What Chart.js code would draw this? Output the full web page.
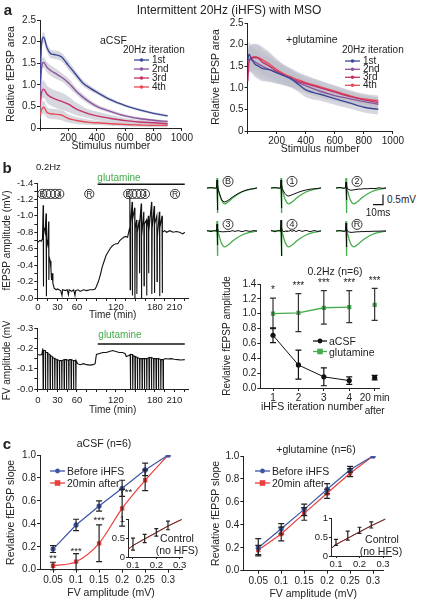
<!DOCTYPE html>
<html>
<head>
<meta charset="utf-8">
<script src="https://cdn.jsdelivr.net/npm/chart.js@4.4.1/dist/chart.umd.min.js"></script>
<style>
html, body { margin: 0; padding: 0; background: #fff; }
#fig { position: relative; width: 421px; height: 600px; overflow: hidden; font-family: 'Liberation Sans', Arial, sans-serif; color: #222; }
#fig canvas { position: absolute; }
.t { position: absolute; white-space: nowrap; line-height: 1; transform: translate(0, -50%); }
.t.c { transform: translate(-50%, -50%); }
</style>
</head>
<body>
<div id="fig"></div>
<script>
// ---- a: relative fEPSP area vs stimulus number
const stim = [1, 10, 25, 50, 75, 100, 150, 200, 250, 300, 350, 400, 500, 600, 700, 800, 900];
const acsf1 = [1.0, 1.9, 2.1, 1.85, 1.72, 1.70, 1.65, 1.45, 1.25, 1.05, 0.93, 0.83, 0.65, 0.52, 0.42, 0.34, 0.28];
const acsf2 = [0.8, 1.35, 1.52, 1.4, 1.33, 1.28, 1.18, 1.05, 0.87, 0.72, 0.6, 0.5, 0.38, 0.28, 0.22, 0.18, 0.15];
const acsf3 = [0.5, 0.8, 0.9, 0.78, 0.72, 0.68, 0.62, 0.55, 0.45, 0.38, 0.32, 0.28, 0.22, 0.17, 0.14, 0.12, 0.1];
const acsf4 = [0.3, 0.42, 0.48, 0.36, 0.33, 0.32, 0.3, 0.22, 0.18, 0.15, 0.13, 0.12, 0.1, 0.08, 0.07, 0.06, 0.06];
const acsfSem1 = [0.1, 0.12, 0.12, 0.1, 0.1, 0.1, 0.1, 0.1, 0.08, 0.07, 0.06, 0.05, 0.04, 0.03, 0.03, 0.03, 0.03];
const acsfSem2 = [0.12, 0.12, 0.12, 0.12, 0.12, 0.12, 0.1, 0.1, 0.08, 0.07, 0.06, 0.05, 0.04, 0.03, 0.03, 0.03, 0.03];
const acsfSem3 = [0.2, 0.2, 0.2, 0.2, 0.2, 0.2, 0.2, 0.18, 0.15, 0.12, 0.1, 0.1, 0.08, 0.06, 0.05, 0.05, 0.04];
const acsfSem4 = [0.15, 0.15, 0.15, 0.12, 0.12, 0.12, 0.12, 0.1, 0.08, 0.07, 0.06, 0.05, 0.05, 0.04, 0.04, 0.04, 0.04];
const glut1 = [1.65, 1.78, 1.68, 1.55, 1.5, 1.45, 1.42, 1.35, 1.28, 1.2, 1.08, 0.95, 0.85, 0.75, 0.65, 0.55, 0.5];
const glut2 = [1.62, 1.65, 1.65, 1.6, 1.55, 1.5, 1.42, 1.35, 1.28, 1.22, 1.12, 1.05, 0.92, 0.82, 0.75, 0.68, 0.62];
const glut3 = [1.15, 1.62, 1.68, 1.7, 1.68, 1.6, 1.5, 1.38, 1.3, 1.22, 1.15, 1.1, 1.0, 0.9, 0.8, 0.72, 0.66];
const glut4 = [1.6, 1.65, 1.7, 1.72, 1.7, 1.65, 1.55, 1.42, 1.32, 1.25, 1.18, 1.12, 1.02, 0.92, 0.82, 0.74, 0.7];
const glutSem = [0.25, 0.28, 0.3, 0.3, 0.3, 0.3, 0.28, 0.25, 0.22, 0.2, 0.18, 0.17, 0.15, 0.14, 0.13, 0.12, 0.12];
const iterNames = ['1st', '2nd', '3rd', '4th'];

// ---- b: time courses (min, mV magnitude)
const fepspTime = [0, 3, 5, 7, 8, 8.3, 8.8, 10, 11, 12.5, 12.8, 13.3, 15, 16.5, 16.8, 17.3, 19, 20, 21, 22, 23, 25, 28, 30, 35,
  37, 38, 42, 45, 47, 48, 52, 55, 57, 58, 62, 65, 70, 75, 80, 85, 88, 90, 93, 96, 99, 102, 105, 108, 111, 114, 117, 120, 123, 126, 129, 132, 135, 138,
  141, 141.5, 142, 142.5, 145, 145.3, 145.8, 149, 149.3, 149.8, 152, 152.3, 152.8, 156, 156.3, 156.8, 159, 159.3, 159.8,
  163, 163.3, 163.8, 167, 167.3, 167.8, 170, 170.3, 170.8, 175, 175.3, 175.8, 179, 179.3, 179.8, 183, 183.3, 183.8,
  187, 187.3, 187.8, 191, 191.3, 191.8, 195, 198, 203, 208, 213, 218, 223, 226];
const fepspAmp = [0.68, 0.7, 0.69, 0.72, 1.13, 0.14, 0.86, 0.84, 0.8, 1.03, 0.02, 0.72, 0.65, 0.93, 0.22, 0.5, 0.45, 0.35, 0.22, 0.3, 0.18, 0.12, 0.1, 0.11, 0.09,
  0.03, 0.1, 0.09, 0.1, 0.04, 0.1, 0.08, 0.1, 0.03, 0.09, 0.1, 0.08, 0.1, 0.09, 0.1, 0.1, 0.11, 0.14, 0.2, 0.28, 0.38, 0.45, 0.52, 0.56, 0.6, 0.63, 0.65, 0.66, 0.66, 0.7, 0.72, 0.74, 0.75, 0.74,
  0.85, 1.22, 0.1, 0.9, 1.17, 0.03, 0.95, 1.1, 0.0, 0.85, 0.95, 0.05, 0.8, 0.95, 0.3, 0.9, 1.15, 0.0, 0.75,
  1.05, 0.15, 0.9, 0.95, 0.03, 0.85, 1.0, 0.3, 0.8, 1.17, 0.05, 0.85, 1.12, 0.06, 0.9, 1.0, 0.2, 0.75,
  1.05, 0.02, 0.85, 1.0, 0.06, 0.8, 0.82, 0.8, 0.82, 0.8, 0.81, 0.8, 0.78, 0.8];
const fvTime = [0, 3, 6, 7.5, 8, 8.5, 11.2, 11.6, 12, 14.8, 15.2, 15.6, 18.4, 18.8, 19.2, 22, 22.4, 22.8, 25.6, 26, 26.4,
  29.2, 29.6, 30, 32.8, 33.2, 33.6, 36.4, 36.8, 37.2, 40, 40.4, 40.8, 43.6, 44, 44.4, 47.2, 47.6, 48, 50.8, 51.2, 51.6,
  54.4, 54.8, 55.2, 58, 58.4, 58.8, 61, 65, 70, 75, 80, 85, 88, 90, 95, 100, 105, 110, 115, 120, 125, 130, 134, 136, 140,
  142, 142.4, 142.8, 145.6, 146, 146.4, 149.2, 149.6, 150, 152.8, 153.2, 153.6, 156.4, 156.8, 157.2, 160, 160.4, 160.8,
  163.6, 164, 164.4, 167.2, 167.6, 168, 170.8, 171.2, 171.6, 174.4, 174.8, 175.2, 178, 178.4, 178.8, 181.6, 182, 182.4,
  185.2, 185.6, 186, 188.8, 189.2, 189.6, 192.4, 192.8, 193.2, 196, 200, 205, 210, 215, 220, 226];
const fvTrace = [0.17, 0.168, 0.17, 0.2, 0, 0.19, 0.19, 0, 0.18, 0.18, 0, 0.175, 0.17, 0, 0.165, 0.16, 0, 0.155, 0.15, 0, 0.15,
  0.145, 0, 0.145, 0.14, 0, 0.14, 0.14, 0, 0.14, 0.145, 0, 0.145, 0.145, 0, 0.145, 0.14, 0, 0.145, 0.145, 0, 0.145,
  0.14, 0, 0.14, 0.14, 0, 0.14, 0.125, 0.12, 0.125, 0.12, 0.118, 0.12, 0.125, 0.17, 0.175, 0.18, 0.18, 0.185, 0.19, 0.185, 0.18, 0.18, 0.175, 0.16, 0.165,
  0.17, 0, 0.17, 0.17, 0, 0.165, 0.16, 0, 0.16, 0.155, 0, 0.155, 0.15, 0, 0.15, 0.15, 0, 0.15,
  0.15, 0, 0.15, 0.15, 0, 0.15, 0.155, 0, 0.155, 0.155, 0, 0.155, 0.15, 0, 0.15, 0.15, 0, 0.15,
  0.15, 0, 0.15, 0.145, 0, 0.145, 0.145, 0, 0.145, 0.15, 0.148, 0.15, 0.147, 0.145, 0.143, 0.145];
const timeTicks = [0, 15, 30, 45, 60, 75, 90, 105, 120, 135, 150, 165, 180, 195, 210, 225];
const timeLabels = [0, 30, 60, 120, 180, 210];
const glutOn = [92, 226];
const sampleTimes = [6.7, 13.2, 19.7, 26.3, 32.8, 79, 139, 145.4, 151.8, 158.3, 164.7, 211];
const sampleNames = ['B', '', '', '', '4', 'R', 'B', '', '', '', '4', 'R'];

// ---- b: example sweeps (ms, mV)
const waveT = [-10, -6, -2, -0.5, 0, 0.4, 0.8, 1.3, 2, 3, 4, 5, 6, 7, 8, 9, 11, 13, 15, 18, 21, 25, 29, 33, 37, 40];
const waveGreen = [0, 0.02, -0.01, 0, 0.5, -1.25, 0.2, -0.1, -0.2, -0.4, -0.55, -0.66, -0.74, -0.78, -0.79, -0.77, -0.7, -0.62, -0.53, -0.41, -0.31, -0.2, -0.12, -0.07, -0.03, 0];
const blackB = [0, 0.02, -0.01, 0, 0.4, -1.1, 0.15, -0.1, -0.2, -0.35, -0.5, -0.6, -0.66, -0.69, -0.7, -0.68, -0.62, -0.55, -0.47, -0.37, -0.28, -0.18, -0.11, -0.06, -0.03, 0];
const black1 = [0, 0.02, -0.01, 0, 0.4, -1.0, 0.15, -0.05, -0.1, -0.2, -0.28, -0.34, -0.38, -0.4, -0.4, -0.38, -0.34, -0.3, -0.26, -0.2, -0.15, -0.1, -0.06, -0.04, -0.02, 0];
const black2 = [0, 0.03, -0.02, 0.02, 0.3, -0.6, 0.1, -0.03, -0.05, -0.08, -0.1, -0.11, -0.11, -0.1, -0.09, -0.08, -0.07, -0.05, -0.06, -0.03, -0.04, -0.02, -0.03, 0.01, -0.02, 0];
const black3 = [0.02, -0.03, 0.03, -0.02, 0.35, -0.7, 0.1, 0, -0.02, -0.04, -0.02, -0.05, -0.03, -0.05, -0.02, -0.04, -0.01, -0.03, 0.02, -0.02, 0.02, -0.03, 0.02, -0.02, 0.02, 0];
const black4 = [0.03, -0.04, 0.04, -0.03, 0.55, -1.25, 0.15, 0.03, -0.03, -0.02, -0.04, 0.03, -0.05, 0.02, -0.03, 0.04, -0.02, 0.03, -0.03, 0.04, -0.02, 0.03, -0.03, 0.02, -0.02, 0.01];
const blackR = [0, 0.02, -0.02, 0.01, 0.4, -0.8, 0.1, 0, -0.03, -0.05, -0.06, -0.07, -0.07, -0.06, -0.06, -0.05, -0.04, -0.04, -0.03, -0.03, -0.02, -0.02, -0.01, -0.01, 0, 0];

// ---- b: summary at 0.2Hz
const iterX = [1, 2, 3, 4, 5];
const iterLabels = ['1', '2', '3', '4', ['20 min', 'after']];
const sumAcsf = [0.71, 0.31, 0.15, 0.10, 0.14];
const sumAcsfLo = [0.61, 0.12, 0.03, 0.05, 0.11];
const sumAcsfHi = [0.81, 0.51, 0.27, 0.15, 0.17];
const sumGlut = [1.0, 1.01, 1.08, 1.09, 1.12];
const sumGlutLo = [0.80, 0.76, 0.86, 0.88, 0.91];
const sumGlutHi = [1.21, 1.27, 1.31, 1.31, 1.34];
const sumStars = ['*', '***', '***', '***', '***'];
const sumStarY = [1.31, 1.37, 1.41, 1.41, 1.44];

// ---- c: input-output curves
const fvX = [0.05, 0.1, 0.15, 0.2, 0.25, 0.3];
const acsfBefore = [0.18, 0.39, 0.555, 0.71, 0.87, 1.0];
const acsfBeforeLo = [0.15, 0.34, 0.51, 0.64, 0.82, null];
const acsfBeforeHi = [0.21, 0.44, 0.60, 0.78, 0.93, null];
const acsfAfter = [0.035, 0.07, 0.23, 0.535, 0.78, 1.0];
const acsfAfterLo = [0.0, 0.0, 0.07, 0.38, 0.69, null];
const acsfAfterHi = [0.065, 0.14, 0.39, 0.70, 0.87, null];
const cStarX = [0.05, 0.1, 0.15, 0.214];
const cStarY = [0.1, 0.16, 0.43, 0.67];
const cStars = ['**', '***', '***', '**'];
const glutBefore = [0.2, 0.365, 0.535, 0.71, 0.88, 1.0];
const glutBeforeLo = [0.14, 0.32, 0.48, 0.67, 0.86, null];
const glutBeforeHi = [0.28, 0.41, 0.58, 0.76, 0.91, null];
const glutAfter = [0.18, 0.32, 0.5, 0.675, 0.85, 1.0];
const glutAfterLo = [0.13, 0.26, 0.44, 0.63, 0.82, null];
const glutAfterHi = [0.22, 0.38, 0.55, 0.71, 0.89, null];
const insetX = [0.08, 0.1, 0.15, 0.2, 0.25, 0.31];
const insetAcsfCtl = [0.2, 0.3, 0.48, 0.65, 0.82, 1.0];
const insetAcsfCtl2 = [0.21, 0.31, 0.47, 0.64, 0.82, 0.99];
const insetAcsfLo = [null, 0.18, 0.38, 0.55, 0.72, null];
const insetAcsfHi = [null, 0.5, 0.6, 0.75, 0.95, null];
const insetGlutCtl = [0.2, 0.3, 0.47, 0.64, 0.8, 0.98];
const insetGlutCtl2 = [0.21, 0.31, 0.47, 0.63, 0.8, 0.97];
const insetGlutLo = [null, 0.28, 0.42, 0.6, 0.74, null];
const insetGlutHi = [null, 0.44, 0.66, 0.76, 0.9, null];

const INK = '#222';
const GREEN = '#45ad4c';
const BLUE = '#3e56a6';
const RED = '#e8403f';
const ITER_COLORS = ['#3b4796', '#8d559f', '#c6306a', '#e84a55'];
const BAND = 'rgba(190,192,204,0.62)';

Chart.defaults.font.family = "'Liberation Sans', Arial, sans-serif";
Chart.defaults.color = INK;

const fig = document.getElementById('fig');

function canvasAt(left, top, w, h) {
  const c = document.createElement('canvas');
  w = Math.round(w); h = Math.round(h);
  c.width = w; c.height = h;
  c.style.left = left + 'px'; c.style.top = top + 'px';
  c.style.width = w + 'px'; c.style.height = h + 'px';
  fig.appendChild(c);
  return c;
}

// canvas sized so that the plot area lands on x0..x1 / y0..y1
function place(x0, y0, x1, y1, yw, xh, pad) {
  const [pt, pr, pb, pl] = pad;
  const left = x0 - yw - pl, top = y0 - pt;
  return { canvas: canvasAt(left, top, x1 + pr - left, y1 + xh + pb - top), padding: { top: pt, right: pr, bottom: pb, left: pl } };
}

function axis(o) {
  return {
    type: 'linear', min: o.min, max: o.max,
    afterFit: s => { if (s.isHorizontal()) s.height = o.size; else s.width = o.size; },
    afterBuildTicks: s => { s.ticks = o.ticks.map(v => ({ value: v })); },
    grid: { drawOnChartArea: false, drawTicks: true, tickLength: o.tl ?? 3, tickColor: INK, tickWidth: 1 },
    border: { display: true, color: INK, width: 1 },
    ticks: { autoSkip: false, maxRotation: 0, padding: o.tp ?? 1, color: INK, font: { size: o.fs ?? 10, lineHeight: 1.3 }, callback: o.fmt ?? (v => String(v)) },
    title: { display: !!o.title, text: o.title, color: INK, font: { size: o.tfs ?? 10.5 }, padding: { top: o.tpad ?? 0, bottom: 0 } }
  };
}

function baseOptions(padding, scales) {
  return {
    responsive: false, animation: false, devicePixelRatio: 1,
    layout: { padding }, scales,
    plugins: { legend: { display: false }, tooltip: { enabled: false }, filler: { drawTime: 'beforeDatasetsDraw' } },
    elements: { point: { radius: 0 }, line: { borderWidth: 1.3, tension: 0 } }
  };
}

function pts(xs, ys) { return xs.map((x, i) => ({ x, y: ys[i] })); }

function onPage(chart, fn) {
  const ctx = chart.ctx;
  ctx.save();
  ctx.translate(-chart.canvas.offsetLeft, -chart.canvas.offsetTop);
  fn(ctx);
  ctx.restore();
}

function legendMark(ctx, x0, x1, y, color, shape, r) {
  ctx.strokeStyle = color; ctx.fillStyle = color; ctx.lineWidth = 1.3;
  ctx.beginPath(); ctx.moveTo(x0, y); ctx.lineTo(x1, y); ctx.stroke();
  const cx = (x0 + x1) / 2;
  ctx.beginPath();
  if (shape === 'rect') ctx.rect(cx - r, y - r, 2 * r, 2 * r); else ctx.arc(cx, y, r, 0, Math.PI * 2);
  ctx.fill();
}

function errBars(chart, xs, lo, hi, cap, color) {
  const { ctx, scales: { x, y } } = chart;
  ctx.save();
  ctx.strokeStyle = color || INK; ctx.lineWidth = 1.2;
  xs.forEach((v, i) => {
    if (lo[i] == null) return;
    const px = x.getPixelForValue(v), a = y.getPixelForValue(lo[i]), b = y.getPixelForValue(hi[i]);
    ctx.beginPath();
    ctx.moveTo(px, a); ctx.lineTo(px, b);
    ctx.moveTo(px - cap, a); ctx.lineTo(px + cap, a);
    ctx.moveTo(px - cap, b); ctx.lineTo(px + cap, b);
    ctx.stroke();
  });
  ctx.restore();
}

function labels(chart, xs, ys, texts, size) {
  const { ctx, scales: { x, y } } = chart;
  ctx.save();
  ctx.fillStyle = INK; ctx.font = size + "px 'Liberation Sans', Arial";
  ctx.textAlign = 'center'; ctx.textBaseline = 'middle';
  xs.forEach((v, i) => ctx.fillText(texts[i], x.getPixelForValue(v), y.getPixelForValue(ys[i])));
  ctx.restore();
}

function circleLabel(ctx, cx, cy, r, text, size) {
  ctx.save();
  ctx.strokeStyle = INK; ctx.lineWidth = 0.9;
  ctx.beginPath(); ctx.arc(cx, cy, r, 0, Math.PI * 2); ctx.stroke();
  if (text) {
    ctx.fillStyle = INK; ctx.font = size + "px 'Liberation Sans', Arial";
    ctx.textAlign = 'center'; ctx.textBaseline = 'middle';
    ctx.fillText(text, cx, cy + 0.5);
  }
  ctx.restore();
}

// ---------- panel a
function areaChart(spot, means, sems, legendX, legendY) {
  const datasets = [];
  means.forEach((m, k) => datasets.push({ data: pts(stim, m), borderColor: ITER_COLORS[k], borderWidth: 1.4, cubicInterpolationMode: 'monotone' }));
  means.forEach((m, k) => {
    datasets.push({ data: pts(stim, m.map((v, i) => v + sems[k][i])), borderWidth: 0, fill: false, cubicInterpolationMode: 'monotone' });
    datasets.push({ data: pts(stim, m.map((v, i) => Math.max(0, v - sems[k][i]))), borderWidth: 0, fill: '-1', backgroundColor: BAND, cubicInterpolationMode: 'monotone' });
  });
  new Chart(spot.canvas, {
    type: 'line',
    data: { datasets },
    options: baseOptions(spot.padding, {
      x: axis({ min: 0, max: 1000, ticks: [0, 200, 400, 600, 800, 1000], size: 24, fmt: v => v === 0 ? '' : String(v), title: 'Stimulus number' }),
      y: axis({ min: 0, max: 2.5, ticks: [0, 0.5, 1, 1.5, 2, 2.5], size: spot.yw, fmt: v => v === 0 ? '0' : v.toFixed(1), title: 'Relative fEPSP area', tpad: 5 })
    }),
    plugins: [{ id: 'leg', afterDraw: c => onPage(c, ctx => legendY.forEach((y, k) => legendMark(ctx, legendX, legendX + 15, y, ITER_COLORS[k], 'circle', 1.8))) }]
  });
}

const aLeft = place(40, 20, 182, 128, 40, 24, [10, 12, 2, 0]); aLeft.yw = 40;
areaChart(aLeft, [acsf1, acsf2, acsf3, acsf4], [acsfSem1, acsfSem2, acsfSem3, acsfSem4], 134, [60, 69, 78, 87]);
const aRight = place(248, 23, 393, 131, 42.6, 24, [10, 12, 2, 0]); aRight.yw = 42.6;
areaChart(aRight, [glut1, glut2, glut3, glut4], [glutSem, glutSem, glutSem, glutSem], 345, [61, 69.3, 77.3, 85.3]);

// ---------- panel b, time courses
function timeChart(spot, xs, ys, yMax, yTicks, yFmt, xh, yTitle, barY, withSamples) {
  new Chart(spot.canvas, {
    type: 'line',
    data: { datasets: [{ data: pts(xs, ys), borderColor: '#111', borderWidth: 1.1 }] },
    options: baseOptions(spot.padding, {
      x: axis({ min: -1, max: 231, ticks: timeTicks, size: xh, fs: 9.5, tp: withSamples ? 0 : 2, fmt: v => timeLabels.includes(v) ? String(v) : '', title: 'Time (min)', tfs: 10 }),
      y: axis({ min: 0, max: yMax, ticks: yTicks, size: 37.3, fs: 9.5, fmt: yFmt, title: yTitle, tfs: 10, tpad: 1 })
    }),
    plugins: [{
      id: 'marks',
      afterDraw(c) {
        const { ctx, scales: { x, y } } = c;
        ctx.save();
        ctx.strokeStyle = '#111'; ctx.lineWidth = 1.6;
        ctx.beginPath();
        ctx.moveTo(x.getPixelForValue(glutOn[0]), y.getPixelForValue(barY));
        ctx.lineTo(x.getPixelForValue(glutOn[1]), y.getPixelForValue(barY));
        ctx.stroke();
        ctx.restore();
        if (withSamples) sampleTimes.forEach((t, i) => circleLabel(ctx, x.getPixelForValue(t), y.getPixelForValue(1.267), 4.6, sampleNames[i], 8.5));
      }
    }]
  });
}

timeChart(place(37.3, 183, 188.1, 298, 37.3, 23, [12, 8, 0, 0]), fepspTime, fepspAmp, 1.4,
  [0, 0.1, 0.2, 0.3, 0.4, 0.5, 0.6, 0.7, 0.8, 0.9, 1.0, 1.1, 1.2, 1.3, 1.4],
  v => Math.round(v * 10) % 2 === 0 ? '-' + v.toFixed(1) : '', 23, 'fEPSP amplitude (mV)', 1.385, true);
timeChart(place(37.3, 327, 188.1, 389, 37.3, 27, [6, 8, 0, 0]), fvTime, fvTrace, 0.3,
  [0, 0.05, 0.1, 0.15, 0.2, 0.25, 0.3],
  v => Math.round(v * 100) % 10 === 0 ? '-' + v.toFixed(1) : '', 27, 'FV amplitude (mV)', 0.222, false);

// ---------- panel b, example sweeps
function sweep(left, baseline, black, name, scaleBar) {
  const c = canvasAt(left, baseline - 14, 50, 40);
  new Chart(c, {
    type: 'line',
    data: { datasets: [
      { data: pts(waveT, black), borderColor: '#111', borderWidth: 1 },
      { data: pts(waveT, waveGreen), borderColor: GREEN, borderWidth: 1.3 }
    ] },
    options: baseOptions(0, {
      x: { type: 'linear', display: false, min: -10, max: 40 },
      y: { type: 'linear', display: false, min: -1.3, max: 0.7 }
    }),
    plugins: [{
      id: 'tag',
      afterDraw(ch) {
        const { ctx, scales: { x, y } } = ch;
        circleLabel(ctx, x.getPixelForValue(11), y.getPixelForValue(0.33), 5, name, 9);
        if (scaleBar) {
          ctx.save(); ctx.strokeStyle = '#111'; ctx.lineWidth = 1.2;
          ctx.beginPath();
          ctx.moveTo(x.getPixelForValue(27), y.getPixelForValue(-0.83));
          ctx.lineTo(x.getPixelForValue(37), y.getPixelForValue(-0.83));
          ctx.lineTo(x.getPixelForValue(37), y.getPixelForValue(-0.33));
          ctx.stroke(); ctx.restore();
        }
      }
    }]
  });
}
sweep(207, 188.3, blackB, 'B');
sweep(271, 188.3, black1, '1');
sweep(336, 188.3, black2, '2', true);
sweep(207, 230.7, black3, '3');
sweep(271, 230.7, black4, '4');
sweep(336, 230.7, blackR, 'R');

// ---------- panel b, summary
const sumSpot = place(260, 284, 383, 388, 40.3, 30, [14, 8, 0, 0]);
const lastGap = s => s.p1DataIndex === 4 ? 'rgba(0,0,0,0)' : undefined;
new Chart(sumSpot.canvas, {
  type: 'line',
  data: { datasets: [
    { data: pts(iterX, sumAcsf), borderColor: '#111', borderWidth: 1, pointRadius: 2.6, pointBackgroundColor: '#111', pointBorderWidth: 0, segment: { borderColor: lastGap } },
    { data: pts(iterX, sumGlut), borderColor: GREEN, borderWidth: 1.3, pointStyle: 'rect', pointRadius: 3, pointBackgroundColor: GREEN, pointBorderWidth: 0, segment: { borderColor: lastGap } }
  ] },
  options: baseOptions(sumSpot.padding, {
    x: axis({ min: 0.5, max: 5.2, ticks: iterX, size: 30, fmt: v => iterLabels[v - 1] }),
    y: axis({ min: 0, max: 1.4, ticks: [0, 0.2, 0.4, 0.6, 0.8, 1.0, 1.2, 1.4], size: 40.3, fmt: v => v.toFixed(1), title: 'Revlative fEPSP amplitude', tfs: 10, tpad: 1 })
  }),
  plugins: [{
    id: 'extras',
    afterDatasetsDraw(c) {
      errBars(c, iterX, sumGlutLo, sumGlutHi, 3, '#333');
      errBars(c, iterX, sumAcsfLo, sumAcsfHi, 3, '#111');
    },
    afterDraw(c) {
      labels(c, iterX, sumStarY, sumStars, 10);
      onPage(c, ctx => { legendMark(ctx, 313, 327, 341, '#111', 'circle', 2.4); legendMark(ctx, 313, 327, 351.5, GREEN, 'rect', 2.8); });
    }
  }]
});

// ---------- panel c
function slopeChart(spot, yw, before, bLo, bHi, after, aLo, aHi, smooth, legendX, stars) {
  new Chart(spot.canvas, {
    type: 'line',
    data: { datasets: [
      { data: pts(fvX, before), borderColor: BLUE, borderWidth: 1.2, pointRadius: 2.6, pointBackgroundColor: BLUE, pointBorderWidth: 0 },
      { data: pts(fvX, after), borderColor: RED, borderWidth: 1.2, pointStyle: 'rect', pointRadius: 3.1, pointBackgroundColor: RED, pointBorderWidth: 0, cubicInterpolationMode: smooth ? 'monotone' : 'default' }
    ] },
    options: baseOptions(spot.padding, {
      x: axis({ min: spot.xmin, max: spot.xmax, ticks: fvX, size: 29.3, title: 'FV amplitude (mV)' }),
      y: axis({ min: 0, max: 1, ticks: [0, 0.2, 0.4, 0.6, 0.8, 1.0], size: yw, fmt: v => v.toFixed(1), title: 'Revlative fEPSP slope', tpad: 5 })
    }),
    plugins: [{
      id: 'extras',
      afterDatasetsDraw(c) {
        errBars(c, fvX, bLo, bHi, 3, '#222');
        errBars(c, fvX, aLo, aHi, 3, '#222');
      },
      afterDraw(c) {
        if (stars) labels(c, cStarX, cStarY, cStars, 9.5);
        onPage(c, ctx => { legendMark(ctx, legendX, legendX + 15, 471, BLUE, 'circle', 2.4); legendMark(ctx, legendX, legendX + 15, 483, RED, 'rect', 2.8); });
      }
    }]
  });
}

function insetChart(spot, ctl, ctl2, lo, hi) {
  new Chart(spot.canvas, {
    type: 'line',
    data: { datasets: [
      { data: pts(insetX, ctl), borderColor: '#5a3030', borderWidth: 1 },
      { data: pts(insetX, ctl2), borderColor: RED, borderWidth: 1 }
    ] },
    options: baseOptions(spot.padding, {
      x: axis({ min: 0.0787, max: spot.xmax, ticks: [0.1, 0.2, 0.3], size: 14, fs: 9.5, tl: 2, tp: 0 }),
      y: axis({ min: 0, max: 1, ticks: [0, 0.5, 1], size: 22, fs: 9.5, tl: 2, tp: 1 })
    }),
    plugins: [{ id: 'eb', afterDatasetsDraw: c => errBars(c, insetX, lo, hi, 2, '#222') }]
  });
}

const cLeft = place(40, 455, 182, 570, 40, 29.3, [8, 12, 0, 0]); cLeft.xmin = 0.0217; cLeft.xmax = 0.33;
slopeChart(cLeft, 40, acsfBefore, acsfBeforeLo, acsfBeforeHi, acsfAfter, acsfAfterLo, acsfAfterHi, true, 50, true);
const cLeftIn = place(128, 518, 182.4, 557, 22, 14, [6, 8, 0, 0]); cLeftIn.xmax = 0.31;
insetChart(cLeftIn, insetAcsfCtl, insetAcsfCtl2, insetAcsfLo, insetAcsfHi);

const cRight = place(243, 456, 383, 571, 38.3, 29.3, [8, 12, 0, 0]); cRight.xmin = 0.0174; cRight.xmax = 0.3217;
slopeChart(cRight, 38.3, glutBefore, glutBeforeLo, glutBeforeHi, glutAfter, glutAfterLo, glutAfterHi, false, 255, false);
const cRightIn = place(331, 517, 391, 556, 22, 14, [6, 8, 0, 0]); cRightIn.xmax = 0.334;
insetChart(cRightIn, insetGlutCtl, insetGlutCtl2, insetGlutLo, insetGlutHi);

// ---------- free text
function txt(s, x, y, size, o = {}) {
  const d = document.createElement('div');
  d.className = 't' + (o.center ? ' c' : '');
  d.textContent = s;
  d.style.left = x + 'px'; d.style.top = y + 'px'; d.style.fontSize = size + 'px';
  if (o.color) d.style.color = o.color;
  if (o.bold) d.style.fontWeight = 'bold';
  fig.appendChild(d);
}
txt('a', 8, 9, 15, { center: true, bold: true });
txt('Intermittent 20Hz (iHFS) with MSO', 229, 10, 12, { center: true });
txt('aCSF', 100, 40, 10.5);
txt('20Hz iteration', 123, 49.5, 10);
iterNames.forEach((n, k) => txt(n, 152, [60, 69, 78, 87][k], 10));
txt('+glutamine', 286, 39, 10.5);
txt('20Hz iteration', 342, 50, 10);
iterNames.forEach((n, k) => txt(n, 363, [61, 69.3, 77.3, 85.3][k], 10));

txt('b', 7, 167, 15, { center: true, bold: true });
txt('0.2Hz', 36, 167, 9.5);
txt('glutamine', 119, 178.3, 10, { center: true, color: GREEN });
txt('glutamine', 120, 335, 10, { center: true, color: GREEN });
txt('0.5mV', 387, 200, 10);
txt('10ms', 378, 212.5, 10, { center: true });
txt('0.2Hz (n=6)', 335, 271, 10.5, { center: true });
txt('aCSF', 329, 341, 10.5);
txt('glutamine', 329, 351.5, 10.5);
txt('iHFS iteration number', 312, 405.5, 10.5, { center: true });

txt('c', 7, 443, 15, { center: true, bold: true });
txt('aCSF (n=6)', 104, 443, 10.5, { center: true });
txt('Before iHFS', 67, 471, 10.5);
txt('20min after', 67, 483, 10.5);
txt('Control', 177, 538, 10.5, { center: true });
txt('(no HFS)', 177, 549.5, 10.5, { center: true });
txt('+glutamine (n=6)', 316, 449, 10.5, { center: true });
txt('Before iHFS', 272, 471, 10.5);
txt('20min after', 272, 483, 10.5);
txt('Control', 382, 539.3, 10.5, { center: true });
txt('(no HFS)', 381, 551, 10.5, { center: true });
</script>
</body>
</html>
